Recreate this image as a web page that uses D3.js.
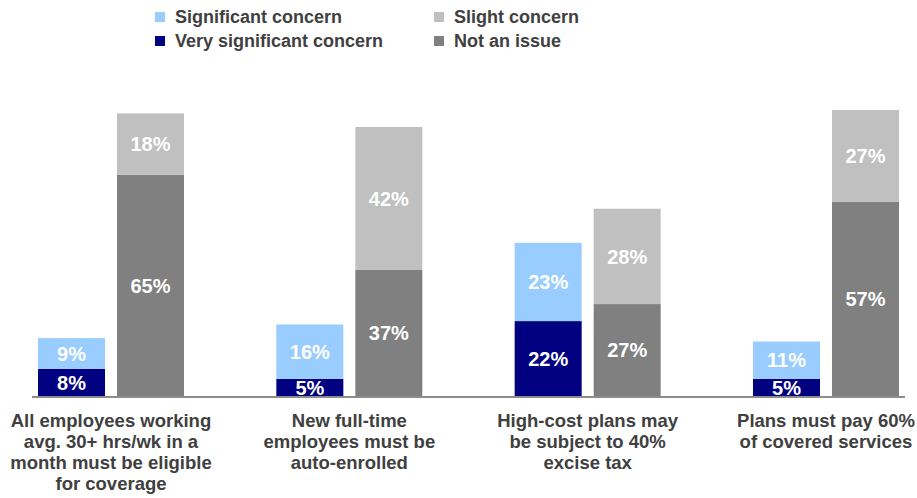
<!DOCTYPE html>
<html>
<head>
<meta charset="utf-8">
<script src="https://cdn.jsdelivr.net/npm/d3@7/dist/d3.min.js"></script>
<style>
  html, body { margin: 0; padding: 0; background: #fff; }
  svg { display: block; font-family: Arial, "Liberation Sans", sans-serif; }
</style>
</head>
<body>
<svg id="chart" width="917" height="498"></svg>
<script>
// Survey categories (multi-line labels)
const categories = [
  ["All employees working", "avg. 30+ hrs/wk in a", "month must be eligible", "for coverage"],
  ["New full-time", "employees must be", "auto-enrolled"],
  ["High-cost plans may", "be subject to 40%", "excise tax"],
  ["Plans must pay 60%", "of covered services"]
];

// Concern bar (left): bottom then top segment
const verySignificant = [8, 5, 22, 5];
const significant     = [9, 16, 23, 11];
// Non-concern bar (right): bottom then top segment
const notAnIssue      = [65, 37, 27, 57];
const slight          = [18, 42, 28, 27];

const colors = {
  "Significant concern": "#99CCFF",
  "Very significant concern": "#000080",
  "Slight concern": "#C0C0C0",
  "Not an issue": "#808080"
};

const svg = d3.select("#chart");
const baseY = 396;
const barW = 67, innerGap = 6;

const x = d3.scalePoint().domain(d3.range(categories.length)).range([111, 826]);
const y = d3.scaleLinear().domain([0, 100]).range([baseY, baseY - 340.5]);

// Build stacked segments
const segs = [];
categories.forEach((c, i) => {
  const lx = x(i) - innerGap - barW;
  const rx = x(i) + innerGap;
  segs.push({ x: lx, y0: 0, y1: verySignificant[i], v: verySignificant[i], s: "Very significant concern" });
  segs.push({ x: lx, y0: verySignificant[i], y1: verySignificant[i] + significant[i], v: significant[i], s: "Significant concern" });
  segs.push({ x: rx, y0: 0, y1: notAnIssue[i], v: notAnIssue[i], s: "Not an issue" });
  segs.push({ x: rx, y0: notAnIssue[i], y1: notAnIssue[i] + slight[i], v: slight[i], s: "Slight concern" });
});

const g = svg.append("g");
g.selectAll("rect.seg").data(segs).join("rect")
  .attr("class", "seg")
  .attr("x", d => d.x)
  .attr("width", barW)
  .attr("y", d => y(d.y1))
  .attr("height", d => y(d.y0) - y(d.y1))
  .attr("fill", d => colors[d.s]);

g.selectAll("text.val").data(segs).join("text")
  .attr("class", "val")
  .attr("x", d => d.x + barW / 2)
  .attr("y", d => (y(d.y0) + y(d.y1)) / 2)
  .attr("dy", "0.36em")
  .attr("text-anchor", "middle")
  .attr("fill", "#fff")
  .attr("font-weight", "bold")
  .attr("font-size", 20)
  .text(d => d.v + "%");

// Baseline axis
svg.append("line")
  .attr("x1", 32).attr("x2", 905)
  .attr("y1", baseY + 1).attr("y2", baseY + 1)
  .attr("stroke", "#8c8c8c").attr("stroke-width", 2);

// Category labels
const cat = svg.selectAll("text.cat").data(categories).join("text")
  .attr("class", "cat")
  .attr("text-anchor", "middle")
  .attr("fill", "#404040")
  .attr("font-weight", "bold")
  .attr("font-size", 18.5);
cat.each(function(lines, i) {
  d3.select(this).selectAll("tspan").data(lines).join("tspan")
    .attr("x", x(i))
    .attr("y", (d, k) => 427 + k * 21)
    .text(d => d);
});

// Legend
const legendItems = [
  { name: "Significant concern", x: 155, y: 12 },
  { name: "Very significant concern", x: 155, y: 36 },
  { name: "Slight concern", x: 434, y: 12 },
  { name: "Not an issue", x: 434, y: 36 }
];
const lg = svg.selectAll("g.leg").data(legendItems).join("g")
  .attr("class", "leg")
  .attr("transform", d => `translate(${d.x},${d.y})`);
lg.append("rect").attr("width", 10).attr("height", 10).attr("fill", d => colors[d.name]);
lg.append("text")
  .attr("x", 20).attr("y", 11)
  .attr("fill", "#404040")
  .attr("font-weight", "bold")
  .attr("font-size", 18)
  .text(d => d.name);
</script>
</body>
</html>
